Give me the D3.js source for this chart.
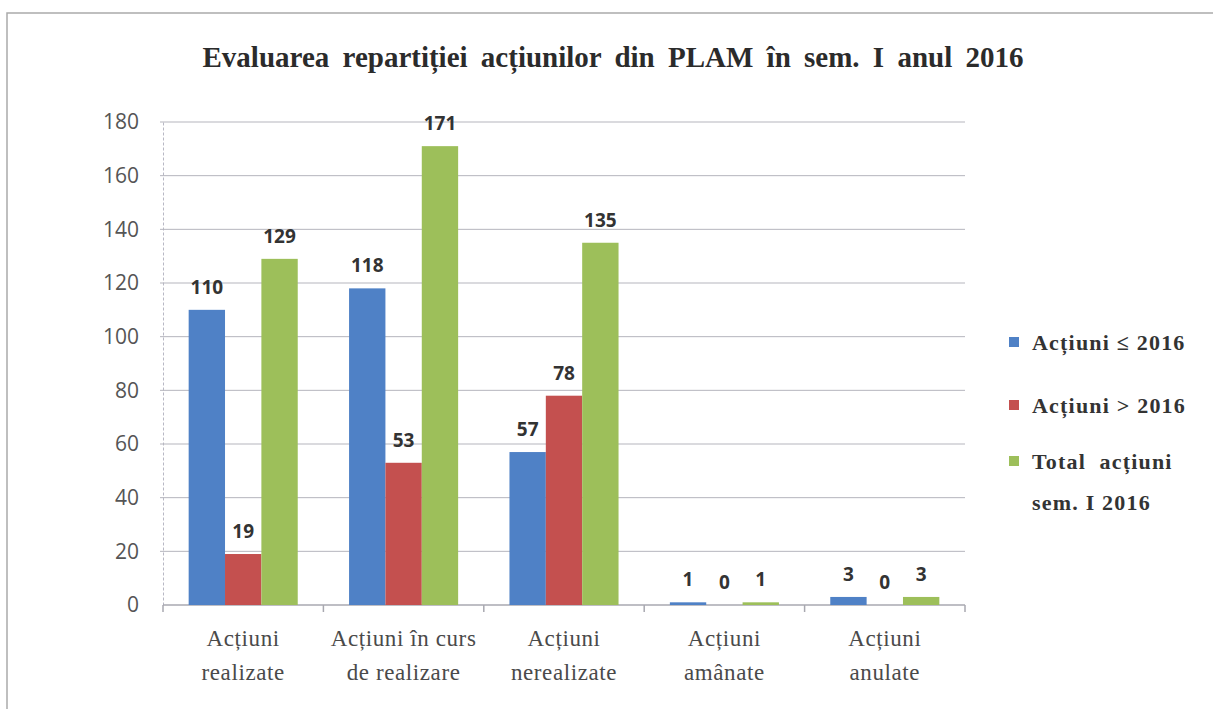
<!DOCTYPE html>
<html>
<head>
<meta charset="utf-8">
<script src="https://cdn.jsdelivr.net/npm/d3@7"></script>
<style>
  body { margin: 0; background: #fff; }
</style>
</head>
<body>
<div id="chart"></div>
<script>
let categories = [
  ["Acțiuni", "realizate"],
  ["Acțiuni în curs", "de realizare"],
  ["Acțiuni", "nerealizate"],
  ["Acțiuni", "amânate"],
  ["Acțiuni", "anulate"]
]
let seriesNames = ["Acțiuni ≤ 2016", "Acțiuni > 2016", "Total acțiuni sem. I 2016"]
let actiuniPana2016 = [110, 118, 57, 1, 3]
let actiuniDupa2016 = [19, 53, 78, 0, 0]
let totalActiuni = [129, 171, 135, 1, 3]
let yTicks = [0, 20, 40, 60, 80, 100, 120, 140, 160, 180]

let seriesValues = [actiuniPana2016, actiuniDupa2016, totalActiuni]
let colors = ["#4f81c6", "#c4504f", "#9dbf5a"]

let svgW = 1213, svgH = 709
let plot = { left: 163, right: 965, top: 122, bottom: 605 }

let svg = d3.select("#chart").append("svg")
  .attr("width", svgW)
  .attr("height", svgH)

// frame
svg.append("path")
  .attr("d", "M7,709 L7,13 L1213,13")
  .attr("fill", "none")
  .attr("stroke", "#aaa")
  .attr("stroke-width", 1.5)

svg.append("text")
  .attr("x", 613)
  .attr("y", 67)
  .attr("text-anchor", "middle")
  .attr("font-family", "Liberation Serif")
  .attr("font-weight", "bold")
  .attr("font-size", 29)
  .attr("fill", "#2b2b2b")
  .attr("word-spacing", 6)
  .text("Evaluarea repartiției acțiunilor din PLAM în sem. I anul 2016")

let x0 = d3.scaleBand()
  .domain(d3.range(categories.length))
  .range([plot.left, plot.right])
  .paddingInner(0.32)
  .paddingOuter(0.16)

let x1 = d3.scaleBand()
  .domain(d3.range(seriesNames.length))
  .range([0, x0.bandwidth()])

let y = d3.scaleLinear()
  .domain([0, 180])
  .range([plot.bottom, plot.top])

// y axis
let yAxis = d3.axisLeft(y).tickValues(yTicks).tickSize(0).tickPadding(24)
let gy = svg.append("g")
  .attr("transform", `translate(${plot.left},0)`)
  .call(yAxis)
gy.select(".domain").attr("stroke", "#b8b8c4").attr("stroke-dasharray", "3,2")
gy.selectAll("text")
  .attr("font-family", "Open Sans")
  .attr("font-size", 21)
  .attr("fill", "#555")

// gridlines
svg.append("g").selectAll("line")
  .data(yTicks.filter(d => d > 0))
  .enter().append("line")
  .attr("x1", plot.left - 3)
  .attr("x2", plot.right)
  .attr("y1", d => y(d))
  .attr("y2", d => y(d))
  .attr("stroke", "#b5b5bd")
  .attr("stroke-width", 1)

// x axis
let step = x0.step()
let gx = svg.append("g")
svg.append("line")
  .attr("x1", plot.left).attr("x2", plot.right)
  .attr("y1", y(0)).attr("y2", y(0))
  .attr("stroke", "#a8a8b0")
  .attr("stroke-width", 1.5)
gx.selectAll("line")
  .data(d3.range(categories.length + 1))
  .enter().append("line")
  .attr("x1", d => plot.left + d * step)
  .attr("x2", d => plot.left + d * step)
  .attr("y1", y(0))
  .attr("y2", y(0) + 7)
  .attr("stroke", "#a8a8b0")
  .attr("stroke-width", 1.5)

let catLabels = svg.append("g").selectAll("text")
  .data(categories)
  .enter().append("text")
  .attr("x", (d, i) => x0(i) + x0.bandwidth() / 2)
  .attr("y", 646)
  .attr("text-anchor", "middle")
  .attr("font-family", "Liberation Serif")
  .attr("font-size", 23)
  .attr("letter-spacing", 0.6)
  .attr("fill", "#4a4a4a")
catLabels.selectAll("tspan")
  .data(d => d)
  .enter().append("tspan")
  .attr("x", function () { return d3.select(this.parentNode).attr("x") })
  .attr("dy", (d, i) => i === 0 ? 0 : 34)
  .text(d => d)

// bars
let groups = svg.append("g").selectAll("g")
  .data(seriesValues)
  .enter().append("g")
  .attr("fill", (d, i) => colors[i])

groups.selectAll("rect")
  .data((vals, s) => vals.map((v, c) => ({ v, c, s })))
  .enter().append("rect")
  .attr("x", d => x0(d.c) + x1(d.s))
  .attr("width", x1.bandwidth())
  .attr("y", d => y(d.v))
  .attr("height", d => y(0) - y(d.v))

// value labels
svg.append("g").selectAll("text")
  .data(seriesValues.flatMap((vals, s) => vals.map((v, c) => ({ v, c, s }))))
  .enter().append("text")
  .attr("x", d => x0(d.c) + x1(d.s) + x1.bandwidth() / 2)
  .attr("y", d => y(d.v) - 16)
  .attr("text-anchor", "middle")
  .attr("font-family", "Open Sans")
  .attr("font-weight", "bold")
  .attr("font-size", 19)
  .attr("fill", "#333")
  .text(d => d.v)

// legend
let legendLines = [["Acțiuni ≤ 2016"], ["Acțiuni > 2016"], ["Total  acțiuni", "sem. I 2016"]]
let legendY = [342, 405, 461]
let legend = svg.append("g").selectAll("g")
  .data(seriesNames)
  .enter().append("g")
  .attr("transform", (d, i) => `translate(1009,${legendY[i]})`)
legend.append("rect")
  .attr("x", 0).attr("y", -5)
  .attr("width", 10).attr("height", 10)
  .attr("fill", (d, i) => colors[i])
let lt = legend.append("text")
  .attr("x", 23)
  .attr("y", 8)
  .attr("font-family", "Liberation Serif")
  .attr("font-weight", "bold")
  .attr("font-size", 22)
  .attr("letter-spacing", 1.2)
  .attr("fill", "#333")
lt.selectAll("tspan")
  .data((d, i) => legendLines[i])
  .enter().append("tspan")
  .attr("x", 23)
  .attr("dy", (d, i) => i === 0 ? 0 : 41)
  .attr("xml:space", "preserve")
  .text(d => d)
</script>
</body>
</html>
